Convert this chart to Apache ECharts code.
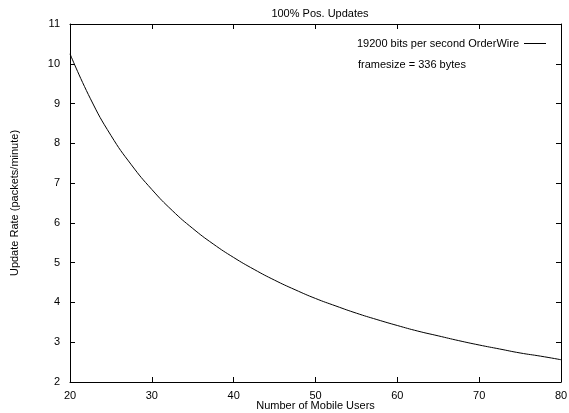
<!DOCTYPE html>
<html>
<head>
<meta charset="utf-8">
<script src="https://cdn.jsdelivr.net/npm/echarts@6/dist/echarts.min.js"></script>
<style>
  html, body { margin: 0; padding: 0; background: #fff; }
  #chart { width: 569px; height: 413px; }
</style>
</head>
<body>
<div id="chart"></div>
<script>
// values
var users = [20, 22.5, 25, 27.5, 30, 32.5, 35, 37.5, 40, 42.5, 45, 47.5, 50, 52.5, 55, 57.5, 60, 62.5, 65, 67.5, 70, 72.5, 75, 77.5, 80]
var updateRate = [10.25, 9.12, 8.2, 7.46, 6.84, 6.31, 5.86, 5.47, 5.13, 4.83, 4.56, 4.32, 4.1, 3.91, 3.73, 3.57, 3.42, 3.28, 3.16, 3.04, 2.93, 2.83, 2.73, 2.65, 2.56]
var seriesName = '19200 bits per second OrderWire'
var noteText = 'framesize = 336 bytes'

var font = 'Liberation Sans, Arial, Helvetica, sans-serif'
var chart = echarts.init(document.getElementById('chart'))

var points = users.map(function (u, i) { return [u, updateRate[i]] })

var xBase = {
  type: 'value',
  min: 20,
  max: 80,
  interval: 10,
  axisLine: { show: true, lineStyle: { color: '#000', width: 1 } },
  axisTick: { show: true, inside: true, length: 5, lineStyle: { color: '#000' } },
  splitLine: { show: false }
}
var yBase = {
  type: 'value',
  min: 2,
  max: 11,
  interval: 1,
  axisLine: { show: true, lineStyle: { color: '#000', width: 1 } },
  axisTick: { show: true, inside: true, length: 5, lineStyle: { color: '#000' } },
  splitLine: { show: false }
}

var option = {
  animation: false,
  textStyle: { fontFamily: font },
  title: {
    text: '100% Pos. Updates',
    left: 315,
    textAlign: 'center',
    top: 3,
    textStyle: { fontSize: 11, fontWeight: 'normal', color: '#000', fontFamily: font }
  },
  grid: { left: 70, right: 8, top: 24, bottom: 31, outerBoundsMode: 'none', containLabel: false },
  legend: {
    right: 18,
    top: 33,
    align: 'right',
    itemWidth: 22,
    itemHeight: 10,
    itemGap: 6,
    textStyle: { fontSize: 11, color: '#000', fontFamily: font },
    data: [{ name: seriesName, icon: 'path://M0,5L22,5L22,6L0,6Z' }]
  },
  graphic: [{
    type: 'text',
    left: 358,
    top: 59,
    style: { text: noteText, fontSize: 11, fill: '#000', fontFamily: font }
  }],
  xAxis: [
    Object.assign({}, xBase, {
      position: 'bottom',
      name: 'Number of Mobile Users',
      nameLocation: 'middle',
      nameGap: 18,
      nameMoveOverlap: false,
      nameTextStyle: { fontSize: 11, color: '#000', fontFamily: font },
      axisLabel: { color: '#000', fontSize: 11, margin: 8, fontFamily: font }
    }),
    Object.assign({}, xBase, { position: 'top', axisLabel: { show: false } })
  ],
  yAxis: [
    Object.assign({}, yBase, {
      position: 'left',
      name: 'Update Rate (packets/minute)',
      nameLocation: 'middle',
      nameGap: 50,
      nameMoveOverlap: false,
      nameTextStyle: { fontSize: 11, color: '#000', fontFamily: font },
      axisLabel: { color: '#000', fontSize: 11, margin: 10, fontFamily: font }
    }),
    Object.assign({}, yBase, { position: 'right', axisLabel: { show: false } })
  ],
  series: [{
    name: seriesName,
    type: 'line',
    data: points,
    smooth: true,
    symbol: 'none',
    lineStyle: { color: '#000', width: 1 },
    itemStyle: { color: '#000' }
  }]
}
chart.setOption(option)
</script>
</body>
</html>
